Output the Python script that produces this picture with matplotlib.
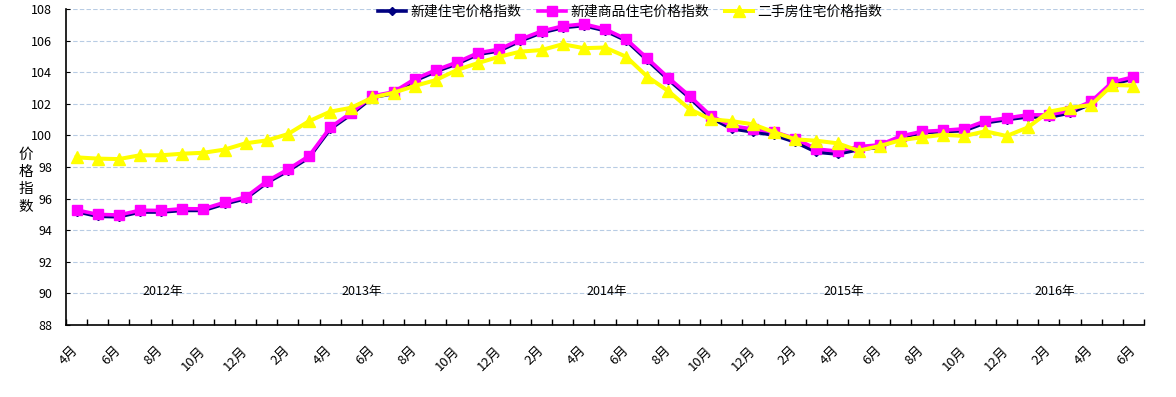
import matplotlib
matplotlib.use('Agg')
import matplotlib.pyplot as plt
import numpy as np

plt.rcParams['font.family'] = ['Noto Sans CJK SC', 'DejaVu Sans']

# 2012年4月 - 2016年6月, monthly
months = [4, 5, 6, 7, 8, 9, 10, 11, 12,
          1, 2, 3, 4, 5, 6, 7, 8, 9, 10, 11, 12,
          1, 2, 3, 4, 5, 6, 7, 8, 9, 10, 11, 12,
          1, 2, 3, 4, 5, 6, 7, 8, 9, 10, 11, 12,
          1, 2, 3, 4, 5, 6]
month_labels = [str(m) + '月' for m in months]

new_all = [95.18, 94.88, 94.85, 95.15, 95.15, 95.25, 95.25, 95.66, 96.0,
           97.0, 97.75, 98.6, 100.4, 101.34, 102.4, 102.65, 103.46, 104.04, 104.53, 105.13, 105.35,
           105.98, 106.5, 106.82, 106.95, 106.63, 106.0, 104.76, 103.53, 102.38, 101.12, 100.42, 100.22,
           100.02, 99.58, 98.94, 98.82, 99.1, 99.25, 99.86, 100.18, 100.24, 100.3, 100.8, 101.0,
           101.17, 101.15, 101.42, 102.0, 103.25, 103.58]
new_comm = [95.28, 95.0, 94.96, 95.26, 95.25, 95.36, 95.35, 95.76, 96.1,
            97.1, 97.85, 98.7, 100.5, 101.44, 102.5, 102.75, 103.57, 104.14, 104.63, 105.23, 105.45,
            106.08, 106.6, 106.92, 107.05, 106.73, 106.1, 104.88, 103.65, 102.5, 101.25, 100.6, 100.4,
            100.23, 99.8, 99.14, 99.0, 99.29, 99.4, 99.96, 100.25, 100.32, 100.42, 100.92, 101.1,
            101.3, 101.3, 101.56, 102.15, 103.38, 103.7]
second_hand = [98.61, 98.53, 98.5, 98.74, 98.74, 98.84, 98.9, 99.1, 99.5,
               99.68, 100.08, 100.9, 101.5, 101.75, 102.4, 102.7, 103.13, 103.5, 104.14, 104.58, 104.98,
               105.3, 105.4, 105.77, 105.52, 105.56, 104.98, 103.72, 102.8, 101.66, 101.02, 100.9, 100.7,
               100.2, 99.75, 99.66, 99.5, 99.03, 99.33, 99.7, 99.88, 100.04, 99.96, 100.26, 99.96,
               100.5, 101.5, 101.75, 101.92, 103.19, 103.15]
series_names = ['新建住宅价格指数', '新建商品住宅价格指数', '二手房住宅价格指数']

year_labels = ['2012年', '2013年', '2014年', '2015年', '2016年']
year_x = [4.1, 13.5, 25.1, 36.3, 46.3]

x = np.arange(len(months))

fig = plt.figure(figsize=(11.76, 3.97), dpi=100)
ax = fig.add_axes([0.0561, 0.1814, 0.9167, 0.796])

ax.plot(x, new_all, color='#000080', lw=2.6, marker='D', ms=4, label=series_names[0], zorder=3)
ax.plot(x, new_comm, color='#FF00FF', lw=2.6, marker='s', ms=7, label=series_names[1], zorder=4)
ax.plot(x, second_hand, color='#FFFF00', lw=2.9, marker='^', ms=8, label=series_names[2], zorder=5)

ax.set_xlim(-0.5, len(months) - 0.5)
ax.set_ylim(88, 108)
ax.set_yticks(np.arange(88, 109, 2))
ax.yaxis.grid(True, color='#b8cce4', linestyle=(0, (4, 2)), linewidth=0.8)
ax.set_axisbelow(True)
for s in ['top', 'right']:
    ax.spines[s].set_visible(False)
ax.spines['left'].set_linewidth(1.2)
ax.spines['bottom'].set_linewidth(1.2)
ax.tick_params(axis='y', direction='in', length=3, pad=10, labelsize=9)

ax.set_xticks(x[::2])
ax.set_xticklabels(month_labels[::2], rotation=45, ha='right', va='center',
                   rotation_mode='anchor', fontsize=9.5)
ax.set_xticks(np.arange(-0.5, len(months), 1), minor=True)
ax.tick_params(axis='x', which='major', length=0, pad=17)
ax.tick_params(axis='x', which='minor', direction='in', length=4, width=1)

for lab, xp in zip(year_labels, year_x):
    ax.text(xp, 90.1, lab, ha='center', va='center', fontsize=9)

fig.text(0.022, 0.545, '价\n格\n指\n数', ha='center', va='center', fontsize=10.5, linespacing=1.3)

fig.legend(loc='center', bbox_to_anchor=(0.536, 0.97), ncol=3, frameon=False,
           fontsize=10, handlelength=2.0, handletextpad=0.3, columnspacing=1.2)

fig.savefig('out.png', dpi=100)
